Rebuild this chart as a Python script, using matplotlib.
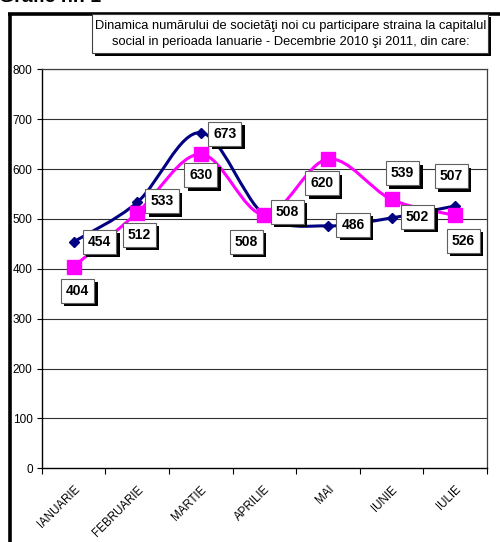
import matplotlib
matplotlib.use("Agg")
import matplotlib.pyplot as plt
from matplotlib.path import Path
from matplotlib.patches import PathPatch, Rectangle
from matplotlib.lines import Line2D
import matplotlib.patheffects as pe
import numpy as np

plt.rcParams['font.family'] = ['Liberation Sans', 'DejaVu Sans']

months = ['IANUARIE', 'FEBRUARIE', 'MARTIE', 'APRILIE', 'MAI', 'IUNIE', 'IULIE']
series_2010 = [454, 533, 673, 508, 486, 502, 526]
series_2011 = [404, 512, 630, 508, 620, 539, 507]
yticks = [0, 100, 200, 300, 400, 500, 600, 700, 800]
title_lines = ["Dinamica numărului de societăţi noi cu participare straina la capitalul",
               "social in perioada Ianuarie - Decembrie 2010 şi 2011, din care:"]

# label offsets in pixels (dx right, dy down)
off_2010 = [(26, 0), (25, -1), (24, 1), (23, -3), (25, -1), (26, -1), (8, 35)]
off_2011 = [(4, 24), (2, 22), (0, 21), (-18, 27), (-6, 24), (11, -26), (-4, -39)]

W, H = 500, 542
fig = plt.figure(figsize=(W / 100, H / 100), dpi=100)

def fx(px):
    return px / W

def fy(py):
    return 1 - py / H

L, R, T, B = 41.7, 487, 69.3, 468.3
ax = fig.add_axes([fx(L), fy(B), (R - L) / W, (B - T) / H])

x = np.arange(len(months))
ax.set_xlim(-0.5, len(months) - 0.5)
ax.set_ylim(0, 800)


def smooth_path(xs, ys):
    pts = np.column_stack([xs, ys]).astype(float)
    n = len(pts)
    verts = [pts[0]]
    codes = [Path.MOVETO]
    for i in range(n - 1):
        p0 = pts[i - 1] if i > 0 else pts[i]
        p1 = pts[i]
        p2 = pts[i + 1]
        p3 = pts[i + 2] if i + 2 < n else pts[i + 1]
        c1 = p1 + (p2 - p0) / 6.0
        c2 = p2 - (p3 - p1) / 6.0
        verts += [c1, c2, p2]
        codes += [Path.CURVE4] * 3
    return Path(verts, codes)

blue = '#000080'
pink = '#FF00FF'

ax.add_patch(PathPatch(smooth_path(x, series_2010), fill=False, edgecolor=blue,
                       lw=2.2, zorder=3, capstyle='round', joinstyle='round'))
ax.plot(x, series_2010, linestyle='none', marker='D', ms=5.5, color=blue, zorder=4)
ax.add_patch(PathPatch(smooth_path(x, series_2011), fill=False, edgecolor=pink,
                       lw=2.2, zorder=5, capstyle='round', joinstyle='round'))
ax.plot(x, series_2011, linestyle='none', marker='s', ms=10, color=pink, zorder=6)

# grid
for v in yticks[1:]:
    ax.axhline(v, color='#303030', lw=0.8, zorder=1)

ax.set_yticks(yticks)
ax.set_yticklabels([str(v) for v in yticks], fontsize=8.5)
ax.set_xticks(np.arange(-0.5, len(months), 1.0))
ax.set_xticklabels([])
ax.set_xticks(x, minor=True)
ax.set_xticklabels(months, minor=True, rotation=45, ha='right', va='top',
                   rotation_mode='anchor', fontsize=8.3)
ax.tick_params(axis='x', which='minor', length=0, pad=11)
ax.tick_params(axis='x', which='major', length=4, width=0.8, direction='out')
ax.tick_params(axis='y', length=3.5, width=0.8, direction='out', pad=3)

for s in ['left', 'bottom']:
    ax.spines[s].set_color('black')
    ax.spines[s].set_linewidth(1.0)
for s in ['top', 'right']:
    ax.spines[s].set_color('#404040')
    ax.spines[s].set_linewidth(0.9)

shadow = [pe.withSimplePatchShadow(offset=(2.5, -2.5), shadow_rgbFace='black', alpha=1.0)]

def label(xv, yv, txt, off):
    t = ax.annotate(txt, (xv, yv), xytext=(off[0] * 0.72, -off[1] * 0.72),
                    textcoords='offset points', ha='center', va='center',
                    fontsize=10, fontweight='bold', color='black', zorder=10,
                    bbox=dict(boxstyle='square,pad=0.36', facecolor='white',
                              edgecolor='#606060', lw=0.8))
    t.get_bbox_patch().set_path_effects(shadow)

for i in range(len(months)):
    label(x[i], series_2010[i], str(series_2010[i]), off_2010[i])
    label(x[i], series_2011[i], str(series_2011[i]), off_2011[i])

# outer frame
fig.add_artist(Line2D([fx(9.5), fx(9.5)], [fy(13.5), fy(H + 5)], color='black', lw=2.6,
                      transform=fig.transFigure, solid_capstyle='butt'))
fig.add_artist(Line2D([fx(8), fx(W + 5)], [fy(13.5), fy(13.5)], color='black', lw=2.6,
                      transform=fig.transFigure, solid_capstyle='butt'))

# title box
bx0, by0, bx1, by1 = 92, 13.5, 488, 53
fig.add_artist(Rectangle((fx(bx0 + 3), fy(by1 + 3)), (bx1 - bx0) / W, (by1 - by0) / H,
                         transform=fig.transFigure, facecolor='black', edgecolor='none', zorder=20))
fig.add_artist(Rectangle((fx(bx0), fy(by1)), (bx1 - bx0) / W, (by1 - by0) / H,
                         transform=fig.transFigure, facecolor='white', edgecolor='#404040',
                         lw=0.8, zorder=21))
fig.text(fx((bx0 + bx1) / 2 + 1), fy(26), title_lines[0], ha='center', va='center',
         fontsize=9.3, zorder=22)
fig.text(fx((bx0 + bx1) / 2 + 1), fy(41.5), title_lines[1], ha='center', va='center',
         fontsize=9.3, zorder=22)

fig.text(fx(-1), fy(2), "Grafic nr. 1", ha='left', va='baseline', fontsize=14,
         fontweight='bold')

fig.savefig('out.png', dpi=100)
